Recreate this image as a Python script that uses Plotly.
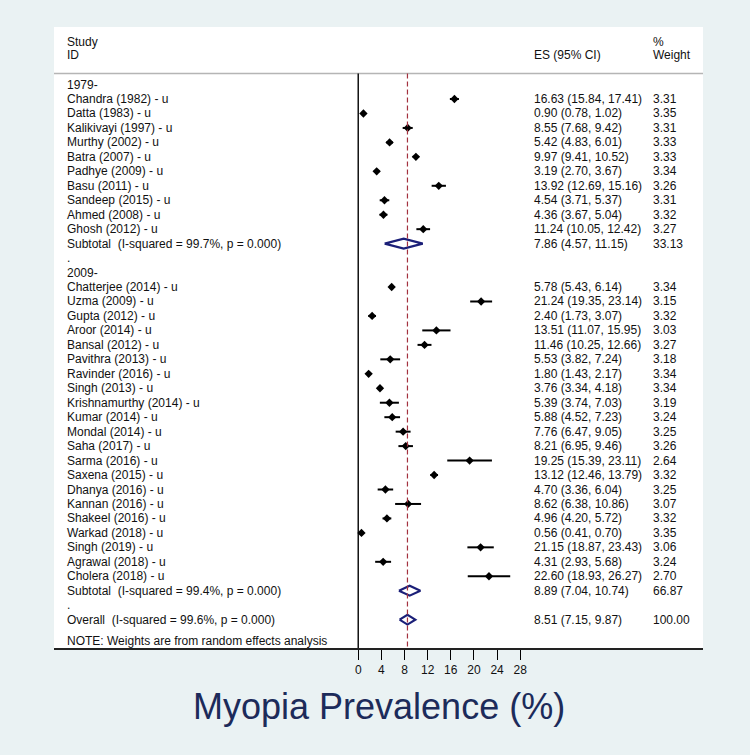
import plotly.graph_objects as go

# study-level estimates, prevalence of myopia (%)
studies_1979 = ['Chandra (1982)', 'Datta (1983)', 'Kalikivayi (1997)',
                'Murthy (2002)', 'Batra (2007)', 'Padhye (2009)',
                'Basu (2011)', 'Sandeep (2015)', 'Ahmed (2008)',
                'Ghosh (2012)']
es_1979 = [16.63, 0.90, 8.55, 5.42, 9.97, 3.19, 13.92, 4.54, 4.36, 11.24]
lo_1979 = [15.84, 0.78, 7.68, 4.83, 9.41, 2.70, 12.69, 3.71, 3.67, 10.05]
hi_1979 = [17.41, 1.02, 9.42, 6.01, 10.52, 3.67, 15.16, 5.37, 5.04, 12.42]
weight_1979 = [3.31, 3.35, 3.31, 3.33, 3.33, 3.34, 3.26, 3.31, 3.32, 3.27]

studies_2009 = ['Chatterjee (2014)', 'Uzma (2009)', 'Gupta (2012)',
                'Aroor (2014)', 'Bansal (2012)', 'Pavithra (2013)',
                'Ravinder (2016)', 'Singh (2013)', 'Krishnamurthy (2014)',
                'Kumar (2014)', 'Mondal (2014)', 'Saha (2017)',
                'Sarma (2016)', 'Saxena (2015)', 'Dhanya (2016)',
                'Kannan (2016)', 'Shakeel (2016)', 'Warkad (2018)',
                'Singh (2019)', 'Agrawal (2018)', 'Cholera (2018)']
es_2009 = [5.78, 21.24, 2.40, 13.51, 11.46, 5.53, 1.80, 3.76, 5.39, 5.88,
           7.76, 8.21, 19.25, 13.12, 4.70, 8.62, 4.96, 0.56, 21.15, 4.31,
           22.60]
lo_2009 = [5.43, 19.35, 1.73, 11.07, 10.25, 3.82, 1.43, 3.34, 3.74, 4.52,
           6.47, 6.95, 15.39, 12.46, 3.36, 6.38, 4.20, 0.41, 18.87, 2.93,
           18.93]
hi_2009 = [6.14, 23.14, 3.07, 15.95, 12.66, 7.24, 2.17, 4.18, 7.03, 7.23,
           9.05, 9.46, 23.11, 13.79, 6.04, 10.86, 5.72, 0.70, 23.43, 5.68,
           26.27]
weight_2009 = [3.34, 3.15, 3.32, 3.03, 3.27, 3.18, 3.34, 3.34, 3.19, 3.24,
               3.25, 3.26, 2.64, 3.32, 3.25, 3.07, 3.32, 3.35, 3.06, 3.24,
               2.70]

group_names = ['1979-', '2009-']
subtotal_es = [7.86, 8.89]
subtotal_lo = [4.57, 7.04]
subtotal_hi = [11.15, 10.74]
subtotal_weight = [33.13, 66.87]
subtotal_i2 = [99.7, 99.4]

overall_es = 8.51
overall_lo = 7.15
overall_hi = 9.87
overall_weight = 100.00
overall_i2 = 99.6

x_ticks = [0, 4, 8, 12, 16, 20, 24, 28]

NAVY = '#1b1f78'
TEXT = '#111111'
FONT = 'Liberation Sans, Arial, sans-serif'

X_LABEL = -50.6
X_ES = 30.05
X_WT = 50.55
DIAMOND_H = 0.34

groups = [
    (studies_1979, es_1979, lo_1979, hi_1979, weight_1979),
    (studies_2009, es_2009, lo_2009, hi_2009, weight_2009),
]

fig = go.Figure()
annotations = []


def addText(x, y, text):
    annotations.append(dict(
        x=x, y=y, xref='x', yref='y', text=text, showarrow=False,
        xanchor='left', yanchor='middle',
        font=dict(family=FONT, size=12, color=TEXT)))


def ciText(es, lo, hi):
    return '%.2f (%.2f, %.2f)' % (es, lo, hi)


def addDiamond(row, es, lo, hi):
    fig.add_trace(go.Scatter(
        x=[lo, es, hi, es, lo],
        y=[row, row - DIAMOND_H, row, row + DIAMOND_H, row],
        mode='lines', line=dict(color=NAVY, width=2.2),
        showlegend=False, hoverinfo='skip'))


pointRows, pointEs, pointPlus, pointMinus = [], [], [], []
row = 0
for g, (names, es, lo, hi, wt) in enumerate(groups):
    addText(X_LABEL, row, group_names[g])
    row += 1
    for i in range(len(names)):
        addText(X_LABEL, row, names[i] + ' - u')
        addText(X_ES, row, ciText(es[i], lo[i], hi[i]))
        addText(X_WT, row, '%.2f' % wt[i])
        pointRows.append(row)
        pointEs.append(es[i])
        pointPlus.append(hi[i] - es[i])
        pointMinus.append(es[i] - lo[i])
        row += 1
    addText(X_LABEL, row, 'Subtotal  (I-squared = %.1f%%, p = 0.000)'
            % subtotal_i2[g])
    addText(X_ES, row, ciText(subtotal_es[g], subtotal_lo[g],
                              subtotal_hi[g]))
    addText(X_WT, row, '%.2f' % subtotal_weight[g])
    addDiamond(row, subtotal_es[g], subtotal_lo[g], subtotal_hi[g])
    row += 1
    addText(X_LABEL, row, '.')
    row += 1

overallRow = row
addText(X_LABEL, overallRow, 'Overall  (I-squared = %.1f%%, p = 0.000)'
        % overall_i2)
addText(X_ES, overallRow, ciText(overall_es, overall_lo, overall_hi))
addText(X_WT, overallRow, '%.2f' % overall_weight)
addDiamond(overallRow, overall_es, overall_lo, overall_hi)
addText(X_LABEL, overallRow + 1.48,
        'NOTE: Weights are from random effects analysis')

fig.add_trace(go.Scatter(
    x=pointEs, y=pointRows, mode='markers',
    marker=dict(symbol='diamond', size=6.4, color='black'),
    error_x=dict(type='data', symmetric=False, array=pointPlus,
                 arrayminus=pointMinus, width=0, thickness=2,
                 color='black'),
    showlegend=False))

# header
addText(X_LABEL, -2.95, 'Study')
addText(X_LABEL, -2.03, 'ID')
addText(X_ES, -2.03, 'ES (95% CI)')
addText(X_WT, -2.95, '%')
addText(X_WT, -2.03, 'Weight')

Y_BOTTOM = 38.96
Y_TOP = -3.98
HEADER_Y = -0.76

shapes = [
    dict(type='line', xref='paper', yref='y', x0=0, x1=1,
         y0=HEADER_Y, y1=HEADER_Y, line=dict(color='#b5b5b5', width=1.5)),
    dict(type='line', xref='x', yref='y', x0=0, x1=0,
         y0=HEADER_Y, y1=Y_BOTTOM, line=dict(color='black', width=1.4)),
    dict(type='line', xref='x', yref='y', x0=overall_es, x1=overall_es,
         y0=HEADER_Y, y1=Y_BOTTOM,
         line=dict(color='#a3313f', width=1.2, dash='5px,3px')),
]

annotations.append(dict(
    x=0.5, y=-0.094, xref='paper', yref='paper',
    text='Myopia Prevalence (%)', showarrow=False,
    xanchor='center', yanchor='middle',
    font=dict(family=FONT, size=36, color='#1c2b5a')))

fig.update_layout(
    width=750, height=755,
    margin=dict(l=54, r=47, t=27, b=107),
    paper_bgcolor='#eaf2f3', plot_bgcolor='white',
    shapes=shapes, annotations=annotations,
    xaxis=dict(range=[-52.58, 59.59], tickvals=x_ticks,
               ticktext=[str(t) for t in x_ticks],
               showgrid=False, zeroline=False, showline=True,
               linecolor='#222222', linewidth=1.6,
               ticks='outside', ticklen=10, tickwidth=1.4,
               tickcolor='black',
               tickfont=dict(family=FONT, size=12, color=TEXT)),
    yaxis=dict(range=[Y_BOTTOM, Y_TOP], visible=False, showgrid=False,
               zeroline=False),
)

# drop the browser's default page margin so the figure sits at (0, 0)
fig.write_html('out.html', config={'displayModeBar': False},
               post_script="document.body.style.margin = '0px';")
